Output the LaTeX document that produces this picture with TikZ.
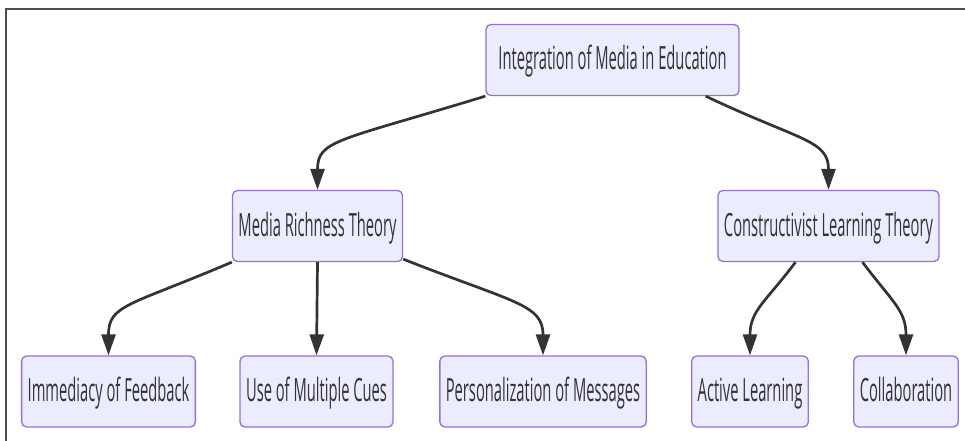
\documentclass[tikz,border=0pt]{standalone}
\usepackage{fontspec}
\setmainfont{Open Sans}[FakeStretch=0.46]
\usepackage{xcolor}
\definecolor{Lilac}{HTML}{ECECFF}
\definecolor{Violet}{HTML}{9370DB}
\definecolor{Ink}{HTML}{333333}
\definecolor{Rim}{HTML}{4D4D4D}
\colorlet{boxfill}{Lilac}
\colorlet{boxline}{Violet}
\colorlet{ink}{Ink}
\usepackage{tikz}
\usetikzlibrary{arrows.meta,positioning}

\begin{document}
\begin{tikzpicture}[x=1pt,y=-1pt,
  box/.style={draw=boxline,fill=boxfill,line width=1.3pt,rounded corners=5pt,minimum height=71pt,inner xsep=6pt,text height=20pt,text depth=0pt,text=ink,font=\fontsize{32}{34}\selectfont},
  link/.style={-{Triangle[length=21pt,width=14pt]},ink,line width=2.7pt}]
\useasboundingbox (0,0) rectangle (965,441);
\draw[Rim,line width=2pt] (5,9.5) -- (965,9.5);
\draw[Rim,line width=2pt] (6,9) -- (6,441);
\node[box,minimum width=253pt] (root) at (612.5,60) {Integration of Media in Education\hspace{13pt}};
\node[box,minimum width=169pt] (mrt) at (317.5,226) {Media Richness Theory};
\node[box,minimum width=221pt] (clt) at (828.5,226) {Constructivist Learning Theory};
\node[box,minimum width=173pt] (imm) at (108.5,391.5) {Immediacy of Feedback};
\node[box,minimum width=153pt] (cues) at (316.5,391.5) {Use of Multiple Cues};
\node[box,minimum width=206pt] (pers) at (543,391.5) {Personalization of Messages};
\node[box,minimum width=116pt] (act) at (750,391.5) {Active Learning};
\node[box,minimum width=104pt] (col) at (906,391.5) {Collaboration};
% root to theories
\draw[link] (root.south west) .. controls +(-147,45) and +(0,-50) .. (mrt.north);
\draw[link] ([xshift=-34pt]root.south east) .. controls +(95,45) and +(0,-50) .. (clt.north);
% media richness
\draw[link] (mrt.south west) .. controls +(-103,44) and +(0,-51) .. (imm.north);
\draw[link] (mrt.south) -- (cues.north);
\draw[link] ([yshift=3pt]mrt.south east) .. controls +(112,44) and +(0,-51) .. (pers.north);
% constructivist
\draw[link] ([xshift=-33pt]clt.south) .. controls +(-30,40) and +(0,-45) .. (act.north);
\draw[link] ([xshift=34pt]clt.south) .. controls +(30,40) and +(0,-45) .. (col.north);
\end{tikzpicture}
\end{document}
